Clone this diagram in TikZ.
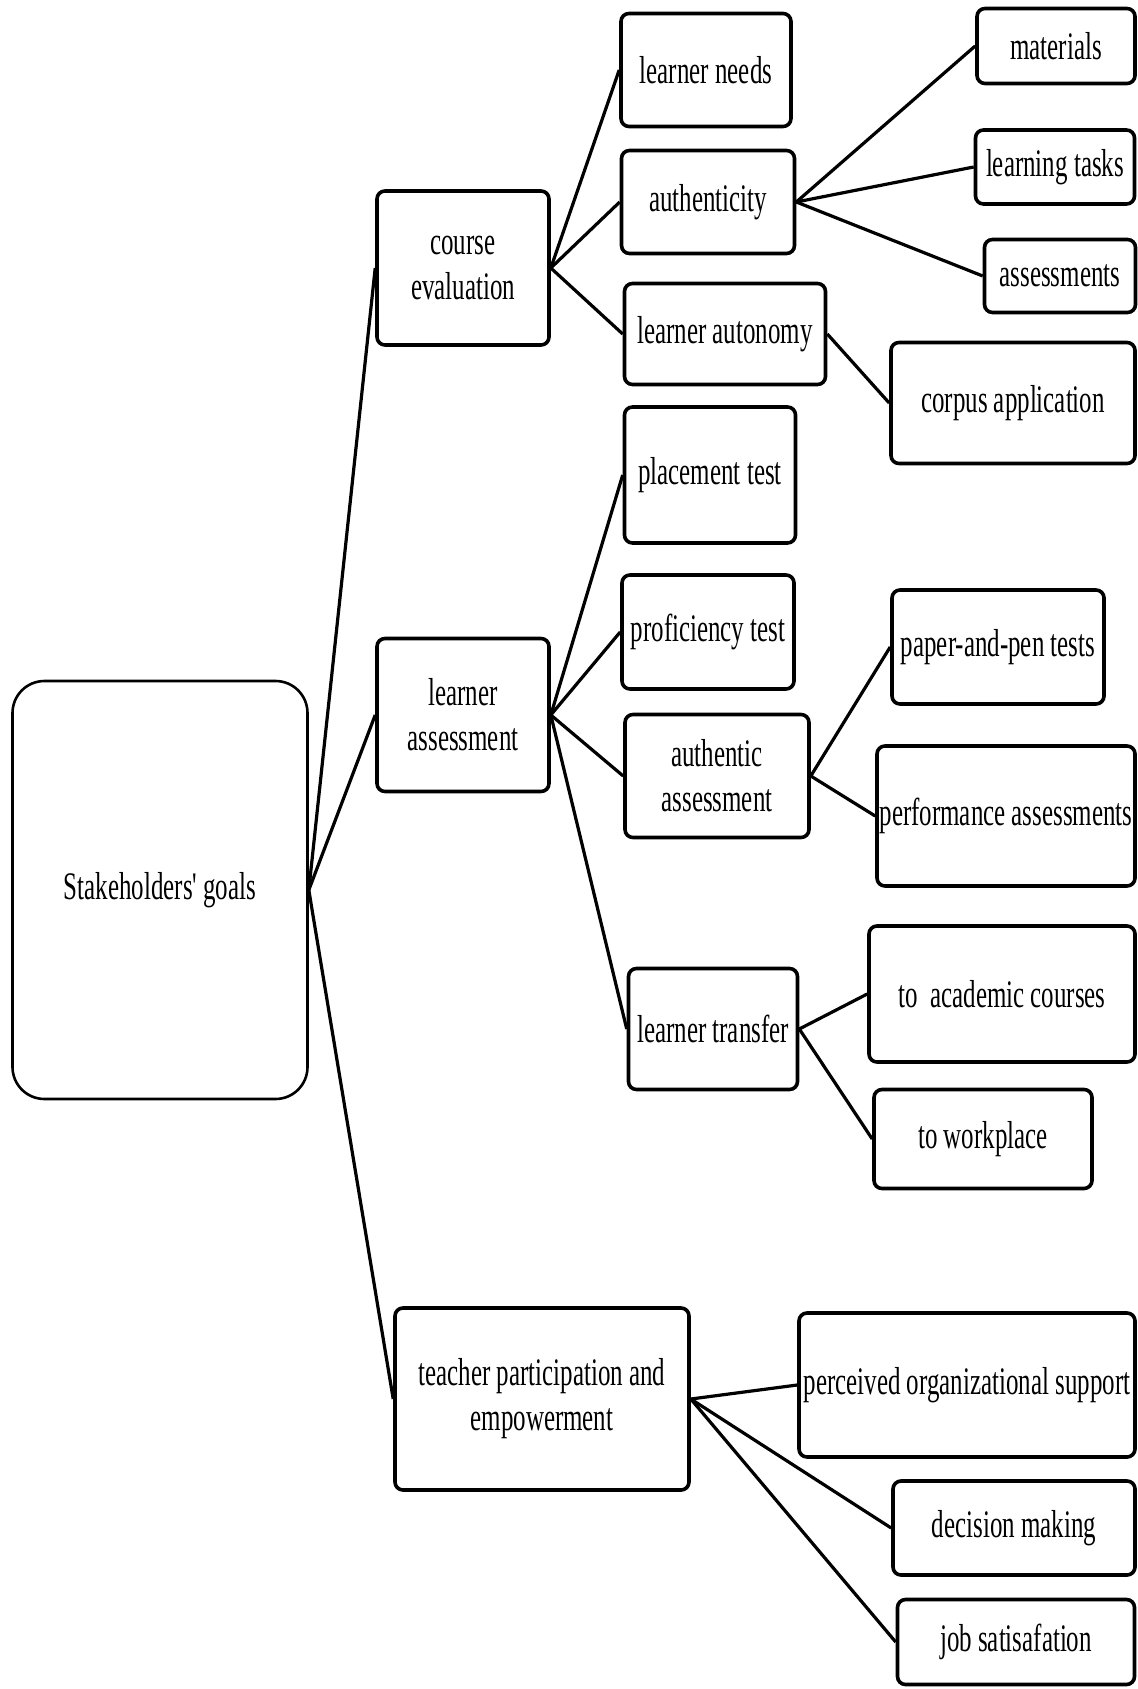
\documentclass[tikz,border=0pt]{standalone}
\usepackage{fontspec}
\setmainfont[FakeStretch=0.64, Ligatures=TeXOff]{Liberation Serif}
\tikzset{
  box/.style  = {draw, line width=1.8pt, rounded corners=4pt, align=center,
                 inner sep=0pt, font=\fontsize{19.5}{22.5}\selectfont},
  root/.style = {box, line width=1.3pt, rounded corners=16pt},
  sz/.style 2 args = {minimum width=#1*0.5pt, minimum height=#2*0.5pt},
  link/.style = {line width=1.6pt}
}

\begin{document}
\begin{tikzpicture}[x=0.5pt,y=-0.5pt]
\useasboundingbox (0,0) rectangle (1137,1689);
% root
\node[root, sz={295}{418}] (goals) at (160,890) {Stakeholders' goals};
% second level
\node[box, sz={172}{154}] (ceval)   at (463,268)  {course\\evaluation};
\node[box, sz={172}{153}] (lassess) at (463,715)  {learner\\assessment};
\node[box, sz={294}{182}] (teacher) at (542,1399) {teacher participation and\\empowerment};
% third level
\node[box, sz={170}{113}] (needs)   at (706,70)   {learner needs};
\node[box, sz={173}{103}] (authen)  at (708,202)  {authenticity};
\node[box, sz={201}{101}] (auton)   at (725,334)  {learner autonomy};
\node[box, sz={171}{136}] (place)   at (710,475)  {placement test};
\node[box, sz={172}{114}] (profic)  at (708,632)  {proficiency test};
\node[box, sz={184}{123}] (authass) at (717,776)  {authentic\\assessment};
\node[box, sz={169}{121}] (transf)  at (713,1029) {learner transfer};
% leaves
\node[box, sz={158}{75}]  (mater)   at (1056,46)   {materials};
\node[box, sz={159}{74}]  (tasks)   at (1055,167)  {learning tasks};
\node[box, sz={151}{73}]  (assess)  at (1060,276)  {assessments};
\node[box, sz={244}{121}] (corpus)  at (1013,403)  {corpus application};
\node[box, sz={212}{114}] (paper)   at (998,647)   {paper-and-pen tests};
\node[box, sz={258}{140}] (perform) at (1006,816)  {performance assessments};
\node[box, sz={266}{136}] (academ)  at (1002,994)  {to\ \ academic courses};
\node[box, sz={218}{99}]  (work)    at (983,1139)  {to workplace};
\node[box, sz={336}{144}] (perceiv) at (967,1385)  {perceived organizational support};
\node[box, sz={242}{94}]  (decis)   at (1014,1528) {decision making};
\node[box, sz={237}{85}]  (job)     at (1016,1642) {job satisafation};
% connectors
\draw[link] (goals.east) -- (ceval.west);
\draw[link] (goals.east) -- (lassess.west);
\draw[link] (goals.east) -- (teacher.west);
\draw[link] (ceval.east) -- (needs.west);
\draw[link] (ceval.east) -- (authen.west);
\draw[link] (ceval.east) -- (auton.west);
\draw[link] (authen.east) -- (mater.west);
\draw[link] (authen.east) -- (tasks.west);
\draw[link] (authen.east) -- (assess.west);
\draw[link] (auton.east) -- (corpus.west);
\draw[link] (lassess.east) -- (place.west);
\draw[link] (lassess.east) -- (profic.west);
\draw[link] (lassess.east) -- (authass.west);
\draw[link] (lassess.east) -- (transf.west);
\draw[link] (authass.east) -- (paper.west);
\draw[link] (authass.east) -- (perform.west);
\draw[link] (transf.east) -- (academ.west);
\draw[link] (transf.east) -- (work.west);
\draw[link] (teacher.east) -- (perceiv.west);
\draw[link] (teacher.east) -- (decis.west);
\draw[link] (teacher.east) -- (job.west);
\end{tikzpicture}
\end{document}
